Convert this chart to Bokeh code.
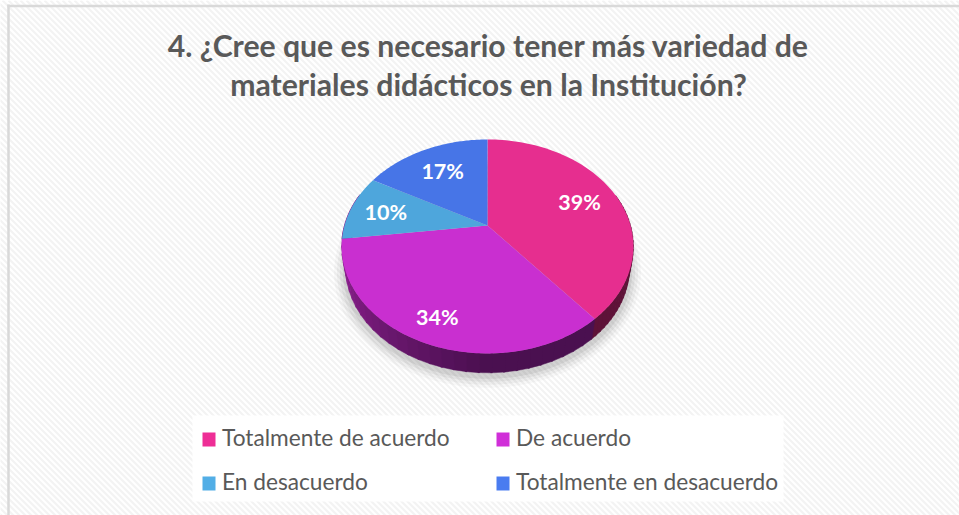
import numpy as np
from bokeh.plotting import figure
from bokeh.embed import file_html
from bokeh.resources import INLINE
from bokeh.core.properties import value

title_lines = ["4. ¿Cree que es necesario tener más variedad de",
               "materiales didácticos en la Institución?"]
categories = ["Totalmente de acuerdo", "De acuerdo", "En desacuerdo", "Totalmente en desacuerdo"]
shares = [39, 34, 10, 17]
colors = ["#E62E8F", "#C92FD0", "#4EA6DC", "#4775E7"]
legend_colors = ["#EE2E96", "#D02FD8", "#52AEE6", "#4A7CF0"]

W, H = 959, 515
p = figure(width=W, height=H, x_range=(0, W), y_range=(H, 0),
           toolbar_location=None, output_backend="svg", min_border=0)
p.axis.visible = False
p.grid.visible = False
p.outline_line_color = None
p.background_fill_color = "#FFFFFF"
p.border_fill_color = "#FFFFFF"

# Diagonal background texture
starts = np.arange(-520, 960, 6.0)
p.multi_line([[s, s + 530] for s in starts], [[0, 530] for s in starts],
             line_color="#F3F3F3", line_width=2.2)
# Frame
p.multi_line([[8, 8], [7, 960]], [[4, 520], [5.5, 5.5]], line_color="#D9D9D9", line_width=2.5)

# Pie geometry: a perspective view of a circle
CX, CY, A, B, K = 487.0, 225.0, 143.0, 102.9, 0.196


def proj(theta):
    x, y = np.sin(theta), np.cos(theta)
    d = 1 + K * y
    return CX + A * x / d, CY - B * y / d


def bottom(theta):
    x, y = proj(theta)
    return CX + (x - CX) * 0.972, y + 21.5 - (y - 246) * 0.02


# Soft shadow below the pie
tt = np.linspace(0, 2 * np.pi, 200)
for grow, alpha in [(12, 0.04), (9, 0.05), (6, 0.07), (3, 0.09)]:
    sx, sy = bottom(tt)
    p.patch(CX + (sx - CX) * (1 + grow / 146), 248 + 3 + (sy - 248) * (1 + grow / 126),
            fill_color="#404040", fill_alpha=alpha, line_color=None)

fractions = np.cumsum([0] + shares) / sum(shares)

# Side wall, front half only, split into thin shaded strips
for i in range(len(shares)):
    a0, a1 = 2 * np.pi * fractions[i], 2 * np.pi * fractions[i + 1]
    lo, hi = max(a0, np.pi * 0.40), min(a1, np.pi * 1.60)
    if hi <= lo:
        continue
    edges = np.linspace(lo, hi, 30)
    for e0, e1 in zip(edges[:-1], edges[1:]):
        tx, ty = proj(np.array([e0, e1 + 0.01]))
        bx, by = bottom(np.array([e1 + 0.01, e0]))
        m = (e0 + e1) / 2
        if i == 0:
            col = "#5E1238"
        else:
            # dark at front-right, lighter purple towards the left
            f = np.clip((m - np.pi * 1.0) / (np.pi * 0.42), 0, 1)
            c0, c1 = np.array([0x4A, 0x10, 0x50]), np.array([0x8E, 0x20, 0x90])
            c = (c0 + (c1 - c0) * f).astype(int)
            col = "#%02X%02X%02X" % tuple(c)
        p.patch(np.r_[tx, bx], np.r_[ty, by], fill_color=col, line_color=col, line_width=0.5)

# Top face
for i, col in enumerate(colors):
    t = np.linspace(2 * np.pi * fractions[i], 2 * np.pi * fractions[i + 1], 80)
    ex, ey = proj(t)
    p.patch(np.r_[CX, ex], np.r_[CY, ey], fill_color=col, line_color=None)

# Percentage labels, placed along each slice's mid-angle
radii = [0.73, 0.78, 0.75, 0.72]
lab_x, lab_y, lab_t = [], [], []
for i, s in enumerate(shares):
    lx, ly = proj(2 * np.pi * (fractions[i] + fractions[i + 1]) / 2)
    lab_x.append(CX + (lx - CX) * radii[i])
    lab_y.append(CY + (ly - CY) * radii[i])
    lab_t.append(f"{s}%")
p.text(lab_x, lab_y, lab_t, text_color="#FFFFFF", text_font=value("Lato"), text_font_style="bold",
       text_font_size="21.5px", text_align="center", text_baseline="middle")

# Title
p.text([488, 488], [44, 83], title_lines, text_color="#595959", text_font=value("Lato"),
       text_font_style="bold", text_font_size="30.2px", text_align="center", text_baseline="middle")

# Legend
p.quad(left=[192], right=[783], top=[415], bottom=[501], fill_color="#FFFFFF", line_color=None)
leg_x = [202, 496, 202, 496]
leg_y = [437, 437, 481, 481]
p.quad(left=leg_x, right=[x + 13 for x in leg_x], top=[y - 5 for y in leg_y], bottom=[y + 9 for y in leg_y],
       fill_color=legend_colors, line_color=None)
p.text([x + 19.5 for x in leg_x], leg_y, categories, text_color="#595959", text_font=value("Lato"),
       text_font_size="22.7px", text_align="left", text_baseline="middle")

open("out.html", "w").write(file_html(p, INLINE))
